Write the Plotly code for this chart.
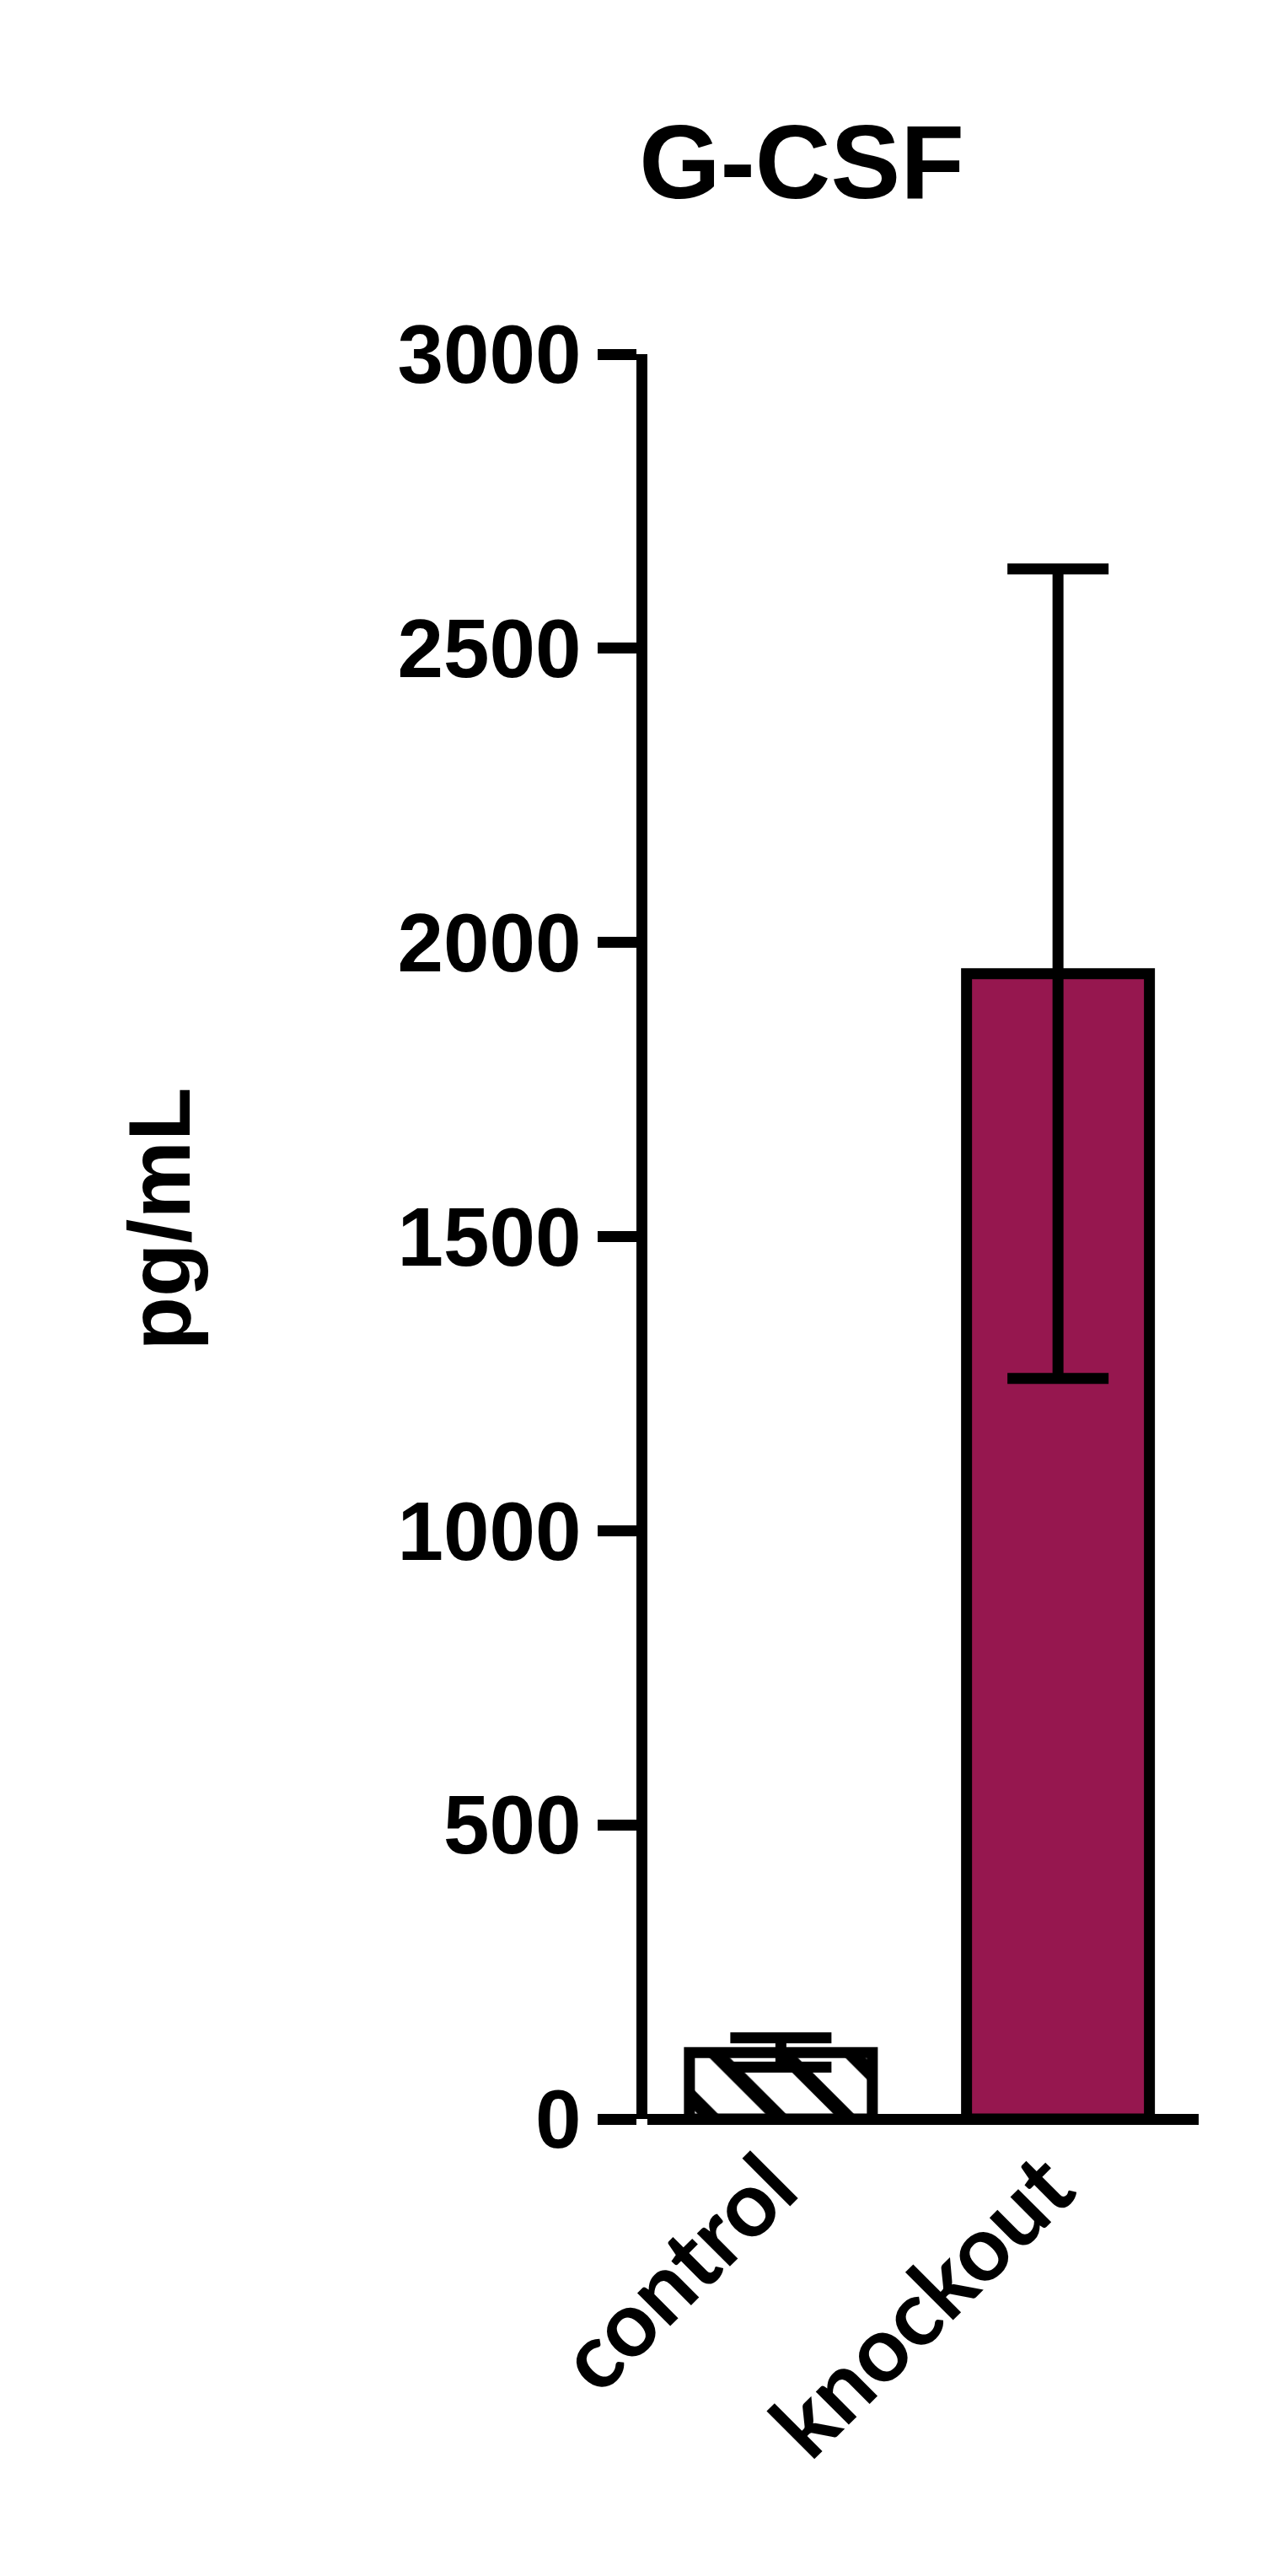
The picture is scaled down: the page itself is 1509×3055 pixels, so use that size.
import plotly.graph_objects as go

# values
groups = ["control", "knockout"]
means = [113, 1947]
sem = [25, 688]
bar_colors = ["white", "#96174F"]
hatches = ["\\", ""]
y_ticks = [0, 500, 1000, 1500, 2000, 2500, 3000]

W, H = 1509, 3055
LW = 13
# plot area in figure pixels (the page adds an 8px body margin)
L, R, T, B = 759.5, 1414, 412, 2505
C0, STEP = 918, 329   # pixel centre of first category, category spacing

fig = go.Figure()
# one trace per group so each bar keeps its own fill / hatch
for i, g in enumerate(groups):
    fig.add_trace(
        go.Bar(
            x=[g],
            y=[means[i]],
            width=0.66,
            marker=dict(
                color=bar_colors[i],
                line=dict(color="black", width=LW),
                pattern=dict(shape=hatches[i], fgcolor="black", bgcolor=bar_colors[i],
                             fillmode="replace", fgopacity=1, size=57, solidity=0.3),
            ),
            error_y=dict(type="data", array=[sem[i]], visible=True,
                         color="black", thickness=LW, width=60),
            showlegend=False,
        )
    )

fig.update_layout(
    barmode="overlay",
    width=W,
    height=H,
    paper_bgcolor="white",
    plot_bgcolor="white",
    margin=dict(l=L, r=W - R, t=T, b=H - B, pad=0),
    title=dict(
        text="<b>G-CSF</b>",
        font=dict(family="Liberation Sans", size=124, color="black"),
        x=943 / W, xref="container", xanchor="center",
        y=1 - 184 / H, yref="container", yanchor="middle",
    ),
    annotations=[
        dict(
            text="<b>pg/mL</b>",
            textangle=-90,
            font=dict(family="Liberation Sans", size=104, color="black"),
            xref="paper", yref="paper",
            x=(180 - L) / (R - L), y=0.51,
            xanchor="center", yanchor="middle",
            showarrow=False,
        )
    ],
)

# x axis drawn as the y=0 line so it sits exactly on the zero tick
fig.update_xaxes(
    categoryorder="array", categoryarray=groups,
    range=[(L - C0) / STEP, (R - C0) / STEP],
    automargin=False,
    showline=False, showgrid=False, zeroline=False,
    ticks="", tickangle=-45, ticklabelshift=-13, ticklabelstandoff=-4,
    tickfont=dict(family="Lato", size=108, color="black", weight="bold"),
)
fig.update_yaxes(
    range=[0, 3000],
    tickvals=y_ticks,
    automargin=False,
    showline=True, linecolor="black", linewidth=LW,
    showgrid=False,
    zeroline=True, zerolinecolor="black", zerolinewidth=LW,
    ticks="outside", ticklen=46, tickwidth=LW, tickcolor="black",
    tickfont=dict(family="Liberation Sans", size=98, color="black", weight="bold"),
)

fig.write_html("out.html")
